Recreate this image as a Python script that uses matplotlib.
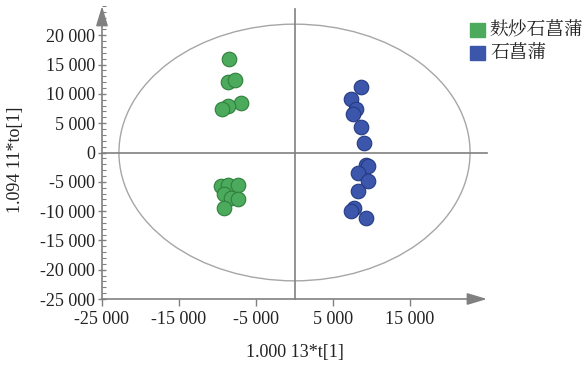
import matplotlib
matplotlib.use("Agg")
import matplotlib.pyplot as plt
from matplotlib.patches import Ellipse
from matplotlib.ticker import FixedLocator, MultipleLocator, FuncFormatter

# Data
green_x = [-8500, -8600, -7700, -7000, -8600, -9400,
           -9500, -8600, -7400, -9200, -8200, -7400, -9200]
green_y = [16000, 12000, 12300, 8400, 7900, 7500,
           -5700, -5500, -5600, -7100, -7700, -8000, -9400]
blue_x = [8700, 7300, 8000, 7600, 8700, 9000,
          9300, 9500, 8200, 9600, 8200, 7700, 7300, 9300]
blue_y = [11100, 9200, 7400, 6500, 4300, 1700,
          -2100, -2300, -3500, -4900, -6600, -9500, -10000, -11200]
legend_labels = ["麸炒石菖蒲", "石菖蒲"]
x_ticks = [-25000, -15000, -5000, 5000, 15000]
y_ticks = [-25000, -20000, -15000, -10000, -5000, 0, 5000, 10000, 15000, 20000]
x_label = "1.000 13*t[1]"
y_label = "1.094 11*to[1]"

fig = plt.figure(figsize=(5.84, 3.65), dpi=100)
ax = fig.add_axes([102/584, 1-299/365, (487-102)/584, (299-6)/365])
ax.set_xlim(-25000, 25000)
ax.set_ylim(-25000, 25000)
for s in ax.spines.values():
    s.set_visible(False)

gray = "#808080"
serif = "Liberation Serif"

# ellipse
ax.add_patch(Ellipse((0, 0), 2*22800, 2*21900, fill=False, edgecolor="#a6a6a6", lw=1.0, zorder=1))
# center lines
ax.plot([-25000, 25000], [0, 0], color=gray, lw=1.2, zorder=1, clip_on=False)
ax.plot([0, 0], [-25000, 24500], color=gray, lw=1.2, zorder=1, clip_on=False)
# axes with arrows
ap = dict(arrowstyle="-|>,head_length=0.6,head_width=0.18", mutation_scale=20,
          color=gray, lw=1.2, shrinkA=0, shrinkB=0)
ax.annotate("", xy=(25000, -25000), xytext=(-25000, -25000), arrowprops=ap,
            annotation_clip=False)
ax.annotate("", xy=(-25000, 25000), xytext=(-25000, -25000), arrowprops=ap,
            annotation_clip=False)

ax.scatter(green_x, green_y, s=110, facecolor="#4caa5c", edgecolor="#2f7f3c", lw=0.8, zorder=3)
ax.scatter(blue_x, blue_y, s=110, facecolor="#3b56ab", edgecolor="#253a82", lw=0.8, zorder=3)

fmt = FuncFormatter(lambda v, p: ("-" if v < 0 else "") + f"{abs(int(round(v))):,}".replace(",", " "))
ax.xaxis.set_major_locator(FixedLocator(x_ticks))
ax.yaxis.set_major_locator(FixedLocator(y_ticks))
ax.yaxis.set_minor_locator(MultipleLocator(1000))
ax.xaxis.set_major_formatter(fmt)
ax.yaxis.set_major_formatter(fmt)
ax.tick_params(axis="x", which="major", direction="out", length=5, color=gray, width=1.0, pad=4)
ax.tick_params(axis="y", which="major", direction="inout", length=6, color=gray, width=1.0, pad=2)
ax.tick_params(axis="y", which="minor", direction="in", length=3, color=gray, width=0.8)
for lab in ax.get_xticklabels() + ax.get_yticklabels():
    lab.set_fontfamily(serif)
    lab.set_fontsize(13)
    lab.set_color("#222222")

fig.text(295/584, 1-352/365, x_label, ha="center", va="center", fontsize=13,
         family=serif, color="#222222")
fig.text(16/584, 1-160/365, y_label, ha="center", va="center", rotation=90, fontsize=13,
         family=serif, color="#222222")

# legend
cols = ["#4caa5c", "#3b56ab"]
for i, (lab, c) in enumerate(zip(legend_labels, cols)):
    yc = 30 + i*23
    fig.patches.append(plt.Rectangle((470/584, 1-(yc+7)/365), 15/584, 14/365,
                                     transform=fig.transFigure, facecolor=c, edgecolor=c))
    fig.text(490/584, 1-yc/365, lab, ha="left", va="center", fontsize=13.5,
             family=["Noto Serif CJK SC", "Noto Sans CJK SC", "DejaVu Sans"], color="#222222")

fig.savefig("out.png", dpi=100)
